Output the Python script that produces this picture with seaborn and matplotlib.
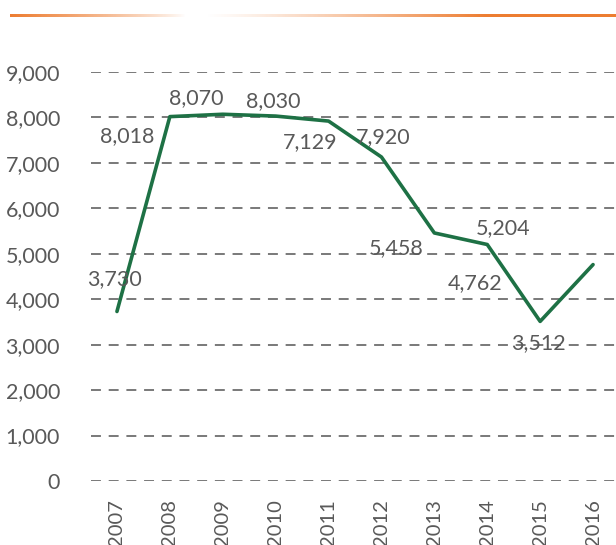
import numpy as np
import pandas as pd
import matplotlib
matplotlib.use("Agg")
import matplotlib.pyplot as plt
import seaborn as sns

# ---- data ----
years = ["2007", "2008", "2009", "2010", "2011", "2012", "2013", "2014", "2015", "2016"]
values = [3730, 8018, 8070, 8030, 7920, 7129, 5458, 5204, 3512, 4762]
y_ticks = [0, 1000, 2000, 3000, 4000, 5000, 6000, 7000, 8000, 9000]

# label placement offsets (category units, value units) relative to each point
label_dx = [-0.04, -0.81, -0.51, -0.05, 1.03, -1.35, -0.73, 0.30, -0.04, -2.23]
label_dy = [715, -426, 359, 333, -350, 331, -330, 364, -475, -405]

sns.set_theme(style="white")
plt.rcParams['font.family'] = ['Lato', 'DejaVu Sans']

TXT = "#595959"
GREEN = "#1E7145"
ORANGE = np.array([237, 125, 49]) / 255.0

fig = plt.figure(figsize=(6.16, 5.45), dpi=100)
ax = fig.add_axes([90.5 / 616, 64 / 545, 529 / 616, 409 / 545])

df = pd.DataFrame({"year": years, "value": values})
sns.lineplot(data=df, x="year", y="value", ax=ax, color=GREEN, linewidth=2.6,
             sort=False, zorder=3)

ax.set_ylim(0, 9000)
ax.set_xlim(-0.5, len(years) - 0.5)
ax.set_yticks(y_ticks)
ax.set_yticklabels([f"{v:,}" for v in y_ticks], color=TXT, fontsize=15.5)
ax.set_xticks(range(len(years)))
ax.set_xticklabels(years, rotation=90, color=TXT, fontsize=14.5)
ax.tick_params(axis="y", length=0, pad=22)
ax.tick_params(axis="x", length=0, pad=13)
ax.set_xlabel("")
ax.set_ylabel("")
for s in ax.spines.values():
    s.set_visible(False)

for yv in y_ticks:
    ax.axhline(yv, color="#6E6E6E", linewidth=1.3, linestyle=(0, (5.5, 4.3)), zorder=1)

for i, v in enumerate(values):
    ax.text(i + label_dx[i], v + label_dy[i], f"{v:,}", ha="center", va="center",
            color=TXT, fontsize=15.5, zorder=4)

# orange gradient rule at the top
gax = fig.add_axes([10 / 616, (545 - 17) / 545, 606 / 616, 3.5 / 545])
xs = np.linspace(10, 616, 800)
alpha = np.where(xs < 185, np.clip((185 - xs) / 175, 0, 1) ** 0.8,
                 np.where(xs < 205, 0.0, np.clip((xs - 205) / 280, 0, 1) ** 1.2))
img = np.zeros((1, len(xs), 4))
img[0, :, :3] = ORANGE
img[0, :, 3] = alpha
gax.imshow(img, aspect="auto", extent=(0, 1, 0, 1))
gax.axis("off")

fig.savefig("out.png", dpi=100)
